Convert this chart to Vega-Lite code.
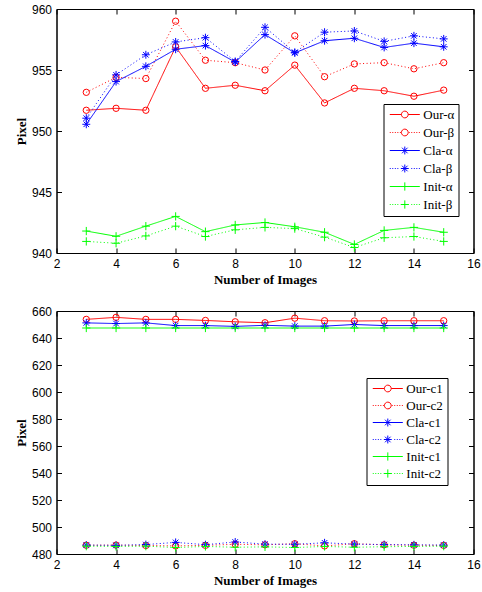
{
  "$schema": "https://vega.github.io/schema/vega-lite/v6.json",
  "background": "white",
  "padding": {"left": 14.5, "top": 2, "right": 0, "bottom": 0},
  "spacing": 17,
  "config": {
    "view": {"stroke": "black", "strokeWidth": 1},
    "axis": {
      "grid": false,
      "domainColor": "black",
      "domainWidth": 1,
      "tickColor": "black",
      "tickWidth": 1,
      "tickSize": -5,
      "labelPadding": 10,
      "labelFont": "Liberation Sans",
      "labelFontSize": 12,
      "labelColor": "black",
      "labelFlush": false,
      "labelOverlap": false,
      "titleFont": "Liberation Serif",
      "titleFontSize": 13,
      "titleFontWeight": "bold",
      "titleColor": "black"
    },
    "legend": {
      "title": null,
      "labelFont": "Liberation Serif",
      "labelFontSize": 13,
      "labelColor": "black",
      "labelAlign": "left",
      "fillColor": "white",
      "strokeColor": "black",
      "padding": 4,
      "symbolSize": 40,
      "symbolStrokeWidth": 1
    }
  },
  "resolve": {"scale": {"x": "independent", "y": "independent", "color": "independent", "shape": "independent", "strokeDash": "independent", "stroke": "independent"}},
  "datasets": {
    "top": [
      {"x": 3, "v": 951.7, "s": "Our-α"}, {"x": 4, "v": 951.86, "s": "Our-α"}, {"x": 5, "v": 951.7, "s": "Our-α"}, {"x": 6, "v": 956.9, "s": "Our-α"}, {"x": 7, "v": 953.5, "s": "Our-α"}, {"x": 8, "v": 953.75, "s": "Our-α"}, {"x": 9, "v": 953.3, "s": "Our-α"}, {"x": 10, "v": 955.4, "s": "Our-α"}, {"x": 11, "v": 952.3, "s": "Our-α"}, {"x": 12, "v": 953.5, "s": "Our-α"}, {"x": 13, "v": 953.3, "s": "Our-α"}, {"x": 14, "v": 952.85, "s": "Our-α"}, {"x": 15, "v": 953.35, "s": "Our-α"},
      {"x": 3, "v": 953.17, "s": "Our-β"}, {"x": 4, "v": 954.4, "s": "Our-β"}, {"x": 5, "v": 954.3, "s": "Our-β"}, {"x": 6, "v": 959.0, "s": "Our-β"}, {"x": 7, "v": 955.8, "s": "Our-β"}, {"x": 8, "v": 955.6, "s": "Our-β"}, {"x": 9, "v": 955.0, "s": "Our-β"}, {"x": 10, "v": 957.8, "s": "Our-β"}, {"x": 11, "v": 954.45, "s": "Our-β"}, {"x": 12, "v": 955.5, "s": "Our-β"}, {"x": 13, "v": 955.6, "s": "Our-β"}, {"x": 14, "v": 955.1, "s": "Our-β"}, {"x": 15, "v": 955.6, "s": "Our-β"},
      {"x": 3, "v": 950.55, "s": "Cla-α"}, {"x": 4, "v": 954.05, "s": "Cla-α"}, {"x": 5, "v": 955.3, "s": "Cla-α"}, {"x": 6, "v": 956.7, "s": "Cla-α"}, {"x": 7, "v": 957.0, "s": "Cla-α"}, {"x": 8, "v": 955.65, "s": "Cla-α"}, {"x": 9, "v": 957.9, "s": "Cla-α"}, {"x": 10, "v": 956.4, "s": "Cla-α"}, {"x": 11, "v": 957.4, "s": "Cla-α"}, {"x": 12, "v": 957.6, "s": "Cla-α"}, {"x": 13, "v": 956.85, "s": "Cla-α"}, {"x": 14, "v": 957.2, "s": "Cla-α"}, {"x": 15, "v": 956.9, "s": "Cla-α"},
      {"x": 3, "v": 951.05, "s": "Cla-β"}, {"x": 4, "v": 954.6, "s": "Cla-β"}, {"x": 5, "v": 956.25, "s": "Cla-β"}, {"x": 6, "v": 957.3, "s": "Cla-β"}, {"x": 7, "v": 957.65, "s": "Cla-β"}, {"x": 8, "v": 955.7, "s": "Cla-β"}, {"x": 9, "v": 958.5, "s": "Cla-β"}, {"x": 10, "v": 956.45, "s": "Cla-β"}, {"x": 11, "v": 958.1, "s": "Cla-β"}, {"x": 12, "v": 958.2, "s": "Cla-β"}, {"x": 13, "v": 957.35, "s": "Cla-β"}, {"x": 14, "v": 957.8, "s": "Cla-β"}, {"x": 15, "v": 957.55, "s": "Cla-β"},
      {"x": 3, "v": 941.8, "s": "Init-α"}, {"x": 4, "v": 941.37, "s": "Init-α"}, {"x": 5, "v": 942.2, "s": "Init-α"}, {"x": 6, "v": 943.0, "s": "Init-α"}, {"x": 7, "v": 941.75, "s": "Init-α"}, {"x": 8, "v": 942.3, "s": "Init-α"}, {"x": 9, "v": 942.5, "s": "Init-α"}, {"x": 10, "v": 942.15, "s": "Init-α"}, {"x": 11, "v": 941.7, "s": "Init-α"}, {"x": 12, "v": 940.7, "s": "Init-α"}, {"x": 13, "v": 941.85, "s": "Init-α"}, {"x": 14, "v": 942.1, "s": "Init-α"}, {"x": 15, "v": 941.7, "s": "Init-α"},
      {"x": 3, "v": 940.95, "s": "Init-β"}, {"x": 4, "v": 940.8, "s": "Init-β"}, {"x": 5, "v": 941.4, "s": "Init-β"}, {"x": 6, "v": 942.2, "s": "Init-β"}, {"x": 7, "v": 941.35, "s": "Init-β"}, {"x": 8, "v": 941.9, "s": "Init-β"}, {"x": 9, "v": 942.1, "s": "Init-β"}, {"x": 10, "v": 942.0, "s": "Init-β"}, {"x": 11, "v": 941.3, "s": "Init-β"}, {"x": 12, "v": 940.45, "s": "Init-β"}, {"x": 13, "v": 941.25, "s": "Init-β"}, {"x": 14, "v": 941.35, "s": "Init-β"}, {"x": 15, "v": 940.95, "s": "Init-β"}
    ],
    "bottom": [
      {"x": 3, "v": 653.8, "s": "Our-c1"}, {"x": 4, "v": 655.3, "s": "Our-c1"}, {"x": 5, "v": 653.8, "s": "Our-c1"}, {"x": 6, "v": 653.8, "s": "Our-c1"}, {"x": 7, "v": 653.0, "s": "Our-c1"}, {"x": 8, "v": 652.0, "s": "Our-c1"}, {"x": 9, "v": 651.3, "s": "Our-c1"}, {"x": 10, "v": 654.7, "s": "Our-c1"}, {"x": 11, "v": 652.8, "s": "Our-c1"}, {"x": 12, "v": 652.6, "s": "Our-c1"}, {"x": 13, "v": 652.8, "s": "Our-c1"}, {"x": 14, "v": 652.8, "s": "Our-c1"}, {"x": 15, "v": 652.8, "s": "Our-c1"},
      {"x": 3, "v": 486.5, "s": "Our-c2"}, {"x": 4, "v": 486.6, "s": "Our-c2"}, {"x": 5, "v": 486.3, "s": "Our-c2"}, {"x": 6, "v": 486.0, "s": "Our-c2"}, {"x": 7, "v": 486.4, "s": "Our-c2"}, {"x": 8, "v": 487.2, "s": "Our-c2"}, {"x": 9, "v": 486.8, "s": "Our-c2"}, {"x": 10, "v": 487.6, "s": "Our-c2"}, {"x": 11, "v": 486.0, "s": "Our-c2"}, {"x": 12, "v": 487.6, "s": "Our-c2"}, {"x": 13, "v": 486.8, "s": "Our-c2"}, {"x": 14, "v": 486.5, "s": "Our-c2"}, {"x": 15, "v": 486.4, "s": "Our-c2"},
      {"x": 3, "v": 651.2, "s": "Cla-c1"}, {"x": 4, "v": 650.7, "s": "Cla-c1"}, {"x": 5, "v": 651.2, "s": "Cla-c1"}, {"x": 6, "v": 649.2, "s": "Cla-c1"}, {"x": 7, "v": 649.2, "s": "Cla-c1"}, {"x": 8, "v": 648.6, "s": "Cla-c1"}, {"x": 9, "v": 649.4, "s": "Cla-c1"}, {"x": 10, "v": 648.8, "s": "Cla-c1"}, {"x": 11, "v": 648.8, "s": "Cla-c1"}, {"x": 12, "v": 650.0, "s": "Cla-c1"}, {"x": 13, "v": 649.2, "s": "Cla-c1"}, {"x": 14, "v": 649.2, "s": "Cla-c1"}, {"x": 15, "v": 649.2, "s": "Cla-c1"},
      {"x": 3, "v": 486.6, "s": "Cla-c2"}, {"x": 4, "v": 486.4, "s": "Cla-c2"}, {"x": 5, "v": 487.0, "s": "Cla-c2"}, {"x": 6, "v": 488.6, "s": "Cla-c2"}, {"x": 7, "v": 486.9, "s": "Cla-c2"}, {"x": 8, "v": 488.9, "s": "Cla-c2"}, {"x": 9, "v": 487.3, "s": "Cla-c2"}, {"x": 10, "v": 487.2, "s": "Cla-c2"}, {"x": 11, "v": 488.3, "s": "Cla-c2"}, {"x": 12, "v": 487.3, "s": "Cla-c2"}, {"x": 13, "v": 487.0, "s": "Cla-c2"}, {"x": 14, "v": 486.8, "s": "Cla-c2"}, {"x": 15, "v": 486.6, "s": "Cla-c2"},
      {"x": 3, "v": 647.4, "s": "Init-c1"}, {"x": 4, "v": 647.4, "s": "Init-c1"}, {"x": 5, "v": 647.4, "s": "Init-c1"}, {"x": 6, "v": 647.4, "s": "Init-c1"}, {"x": 7, "v": 647.4, "s": "Init-c1"}, {"x": 8, "v": 647.4, "s": "Init-c1"}, {"x": 9, "v": 647.4, "s": "Init-c1"}, {"x": 10, "v": 647.4, "s": "Init-c1"}, {"x": 11, "v": 647.4, "s": "Init-c1"}, {"x": 12, "v": 647.4, "s": "Init-c1"}, {"x": 13, "v": 647.4, "s": "Init-c1"}, {"x": 14, "v": 647.4, "s": "Init-c1"}, {"x": 15, "v": 647.4, "s": "Init-c1"},
      {"x": 3, "v": 485.8, "s": "Init-c2"}, {"x": 4, "v": 485.6, "s": "Init-c2"}, {"x": 5, "v": 485.8, "s": "Init-c2"}, {"x": 6, "v": 484.8, "s": "Init-c2"}, {"x": 7, "v": 485.6, "s": "Init-c2"}, {"x": 8, "v": 485.0, "s": "Init-c2"}, {"x": 9, "v": 485.3, "s": "Init-c2"}, {"x": 10, "v": 484.8, "s": "Init-c2"}, {"x": 11, "v": 485.6, "s": "Init-c2"}, {"x": 12, "v": 485.0, "s": "Init-c2"}, {"x": 13, "v": 485.4, "s": "Init-c2"}, {"x": 14, "v": 485.6, "s": "Init-c2"}, {"x": 15, "v": 485.8, "s": "Init-c2"}
    ]
  },
  "vconcat": [
    {
      "width": 417,
      "height": 244,
      "data": {"name": "top"},
      "resolve": {"scale": {"shape": "independent", "stroke": "independent"}, "axis": {"x": "independent", "y": "independent"}},
      "layer": [
        {
          "mark": {"type": "line", "strokeWidth": 1},
          "encoding": {
            "x": {"field": "x", "type": "quantitative", "scale": {"domain": [2, 16], "nice": false}, "axis": {"values": [2, 4, 6, 8, 10, 12, 14, 16], "title": "Number of Images", "titlePadding": 4}},
            "y": {"field": "v", "type": "quantitative", "scale": {"domain": [940, 960], "nice": false, "zero": false}, "axis": {"values": [940, 945, 950, 955, 960], "title": "Pixel", "titlePadding": 2.5}},
            "color": {"field": "s", "type": "nominal", "scale": {"domain": ["Our-α", "Our-β", "Cla-α", "Cla-β", "Init-α", "Init-β"], "range": ["#ff0000", "#ff0000", "#0000ff", "#0000ff", "#00ff00", "#00ff00"]}, "legend": null},
            "strokeDash": {"field": "s", "type": "nominal", "scale": {"domain": ["Our-α", "Our-β", "Cla-α", "Cla-β", "Init-α", "Init-β"], "range": [[1, 0], [1, 2.5], [1, 0], [1, 2.5], [1, 0], [1, 2.5]]}, "legend": null}
          }
        },
        {
          "mark": {"type": "point", "filled": false, "size": 40, "strokeWidth": 1, "opacity": 1},
          "encoding": {
            "x": {"field": "x", "type": "quantitative", "axis": null},
            "y": {"field": "v", "type": "quantitative", "axis": null},
            "color": {"field": "s", "type": "nominal", "legend": null},
            "shape": {"field": "s", "type": "nominal", "scale": {"domain": ["Our-α", "Our-β", "Cla-α", "Cla-β", "Init-α", "Init-β"], "range": ["circle", "circle", "M-1.25,0L1.25,0M0,-1.25L0,1.25M-0.88,-0.88L0.88,0.88M-0.88,0.88L0.88,-0.88", "M-1.25,0L1.25,0M0,-1.25L0,1.25M-0.88,-0.88L0.88,0.88M-0.88,0.88L0.88,-0.88", "M-1.3,0L1.3,0M0,-1.3L0,1.3", "M-1.3,0L1.3,0M0,-1.3L0,1.3"]}, "legend": null}
          }
        },
        {
          "transform": [{"filter": "false"}],
          "mark": {"type": "point", "filled": false, "size": 40, "strokeWidth": 1, "opacity": 1},
          "encoding": {
            "x": {"field": "x", "type": "quantitative", "axis": {"orient": "top", "values": [2, 4, 6, 8, 10, 12, 14, 16], "labels": false, "title": null}},
            "y": {"field": "v", "type": "quantitative", "axis": {"orient": "right", "values": [940, 945, 950, 955, 960], "labels": false, "title": null}},
            "shape": {"field": "s", "type": "nominal", "scale": {"domain": ["Our-α", "Our-β", "Cla-α", "Cla-β", "Init-α", "Init-β"], "range": [
              "M-4.75,0L-1.07,0M1.07,0L4.75,0M1.07,0A1.07,1.07,0,1,1,-1.07,0A1.07,1.07,0,1,1,1.07,0",
              "M-4.75,0h0.3M-3.95,0h0.3M-3.15,0h0.3M-2.35,0h0.3M-1.55,0h0.3M1.25,0h0.3M2.05,0h0.3M2.85,0h0.3M3.65,0h0.3M4.45,0h0.3M1.07,0A1.07,1.07,0,1,1,-1.07,0A1.07,1.07,0,1,1,1.07,0",
              "M-4.75,0L4.75,0M0,-1.25L0,1.25M-0.88,-0.88L0.88,0.88M-0.88,0.88L0.88,-0.88",
              "M-4.75,0h0.3M-3.95,0h0.3M-3.15,0h0.3M-2.35,0h0.3M2.05,0h0.3M2.85,0h0.3M3.65,0h0.3M4.45,0h0.3M-1.25,0L1.25,0M0,-1.25L0,1.25M-0.88,-0.88L0.88,0.88M-0.88,0.88L0.88,-0.88",
              "M-4.75,0L4.75,0M0,-1.3L0,1.3",
              "M-4.75,0h0.3M-3.95,0h0.3M-3.15,0h0.3M-2.35,0h0.3M2.05,0h0.3M2.85,0h0.3M3.65,0h0.3M4.45,0h0.3M-1.3,0L1.3,0M0,-1.3L0,1.3"
            ]}, "legend": {"orient": "none", "legendX": 327, "legendY": 95, "rowPadding": 4, "symbolOffset": 10.8, "labelOffset": 12}},
            "stroke": {"field": "s", "type": "nominal", "scale": {"domain": ["Our-α", "Our-β", "Cla-α", "Cla-β", "Init-α", "Init-β"], "range": ["#ff0000", "#ff0000", "#0000ff", "#0000ff", "#00ff00", "#00ff00"]}, "legend": {"orient": "none", "legendX": 327, "legendY": 95, "rowPadding": 4, "symbolOffset": 10.8, "labelOffset": 12}}
          }
        }
      ]
    },
    {
      "width": 417,
      "height": 243,
      "data": {"name": "bottom"},
      "resolve": {"scale": {"shape": "independent", "stroke": "independent"}, "axis": {"x": "independent", "y": "independent"}},
      "layer": [
        {
          "mark": {"type": "line", "strokeWidth": 1},
          "encoding": {
            "x": {"field": "x", "type": "quantitative", "scale": {"domain": [2, 16], "nice": false}, "axis": {"values": [2, 4, 6, 8, 10, 12, 14, 16], "title": "Number of Images", "titlePadding": 4}},
            "y": {"field": "v", "type": "quantitative", "scale": {"domain": [480, 660], "nice": false, "zero": false}, "axis": {"values": [480, 500, 520, 540, 560, 580, 600, 620, 640, 660], "title": "Pixel", "titlePadding": 2.5}},
            "color": {"field": "s", "type": "nominal", "scale": {"domain": ["Our-c1", "Our-c2", "Cla-c1", "Cla-c2", "Init-c1", "Init-c2"], "range": ["#ff0000", "#ff0000", "#0000ff", "#0000ff", "#00ff00", "#00ff00"]}, "legend": null},
            "strokeDash": {"field": "s", "type": "nominal", "scale": {"domain": ["Our-c1", "Our-c2", "Cla-c1", "Cla-c2", "Init-c1", "Init-c2"], "range": [[1, 0], [1, 2.5], [1, 0], [1, 2.5], [1, 0], [1, 2.5]]}, "legend": null}
          }
        },
        {
          "mark": {"type": "point", "filled": false, "size": 40, "strokeWidth": 1, "opacity": 1},
          "encoding": {
            "x": {"field": "x", "type": "quantitative", "axis": null},
            "y": {"field": "v", "type": "quantitative", "axis": null},
            "color": {"field": "s", "type": "nominal", "legend": null},
            "shape": {"field": "s", "type": "nominal", "scale": {"domain": ["Our-c1", "Our-c2", "Cla-c1", "Cla-c2", "Init-c1", "Init-c2"], "range": ["circle", "circle", "M-1.25,0L1.25,0M0,-1.25L0,1.25M-0.88,-0.88L0.88,0.88M-0.88,0.88L0.88,-0.88", "M-1.25,0L1.25,0M0,-1.25L0,1.25M-0.88,-0.88L0.88,0.88M-0.88,0.88L0.88,-0.88", "M-1.3,0L1.3,0M0,-1.3L0,1.3", "M-1.3,0L1.3,0M0,-1.3L0,1.3"]}, "legend": null}
          }
        },
        {
          "transform": [{"filter": "false"}],
          "mark": {"type": "point", "filled": false, "size": 40, "strokeWidth": 1, "opacity": 1},
          "encoding": {
            "x": {"field": "x", "type": "quantitative", "axis": {"orient": "top", "values": [2, 4, 6, 8, 10, 12, 14, 16], "labels": false, "title": null}},
            "y": {"field": "v", "type": "quantitative", "axis": {"orient": "right", "values": [480, 500, 520, 540, 560, 580, 600, 620, 640, 660], "labels": false, "title": null}},
            "shape": {"field": "s", "type": "nominal", "scale": {"domain": ["Our-c1", "Our-c2", "Cla-c1", "Cla-c2", "Init-c1", "Init-c2"], "range": [
              "M-4.75,0L-1.07,0M1.07,0L4.75,0M1.07,0A1.07,1.07,0,1,1,-1.07,0A1.07,1.07,0,1,1,1.07,0",
              "M-4.75,0h0.3M-3.95,0h0.3M-3.15,0h0.3M-2.35,0h0.3M-1.55,0h0.3M1.25,0h0.3M2.05,0h0.3M2.85,0h0.3M3.65,0h0.3M4.45,0h0.3M1.07,0A1.07,1.07,0,1,1,-1.07,0A1.07,1.07,0,1,1,1.07,0",
              "M-4.75,0L4.75,0M0,-1.25L0,1.25M-0.88,-0.88L0.88,0.88M-0.88,0.88L0.88,-0.88",
              "M-4.75,0h0.3M-3.95,0h0.3M-3.15,0h0.3M-2.35,0h0.3M2.05,0h0.3M2.85,0h0.3M3.65,0h0.3M4.45,0h0.3M-1.25,0L1.25,0M0,-1.25L0,1.25M-0.88,-0.88L0.88,0.88M-0.88,0.88L0.88,-0.88",
              "M-4.75,0L4.75,0M0,-1.3L0,1.3",
              "M-4.75,0h0.3M-3.95,0h0.3M-3.15,0h0.3M-2.35,0h0.3M2.05,0h0.3M2.85,0h0.3M3.65,0h0.3M4.45,0h0.3M-1.3,0L1.3,0M0,-1.3L0,1.3"
            ]}, "legend": {"orient": "none", "legendX": 310, "legendY": 67, "rowPadding": 3, "symbolOffset": 10.8, "labelOffset": 12}},
            "stroke": {"field": "s", "type": "nominal", "scale": {"domain": ["Our-c1", "Our-c2", "Cla-c1", "Cla-c2", "Init-c1", "Init-c2"], "range": ["#ff0000", "#ff0000", "#0000ff", "#0000ff", "#00ff00", "#00ff00"]}, "legend": {"orient": "none", "legendX": 310, "legendY": 67, "rowPadding": 3, "symbolOffset": 10.8, "labelOffset": 12}}
          }
        }
      ]
    }
  ]
}
